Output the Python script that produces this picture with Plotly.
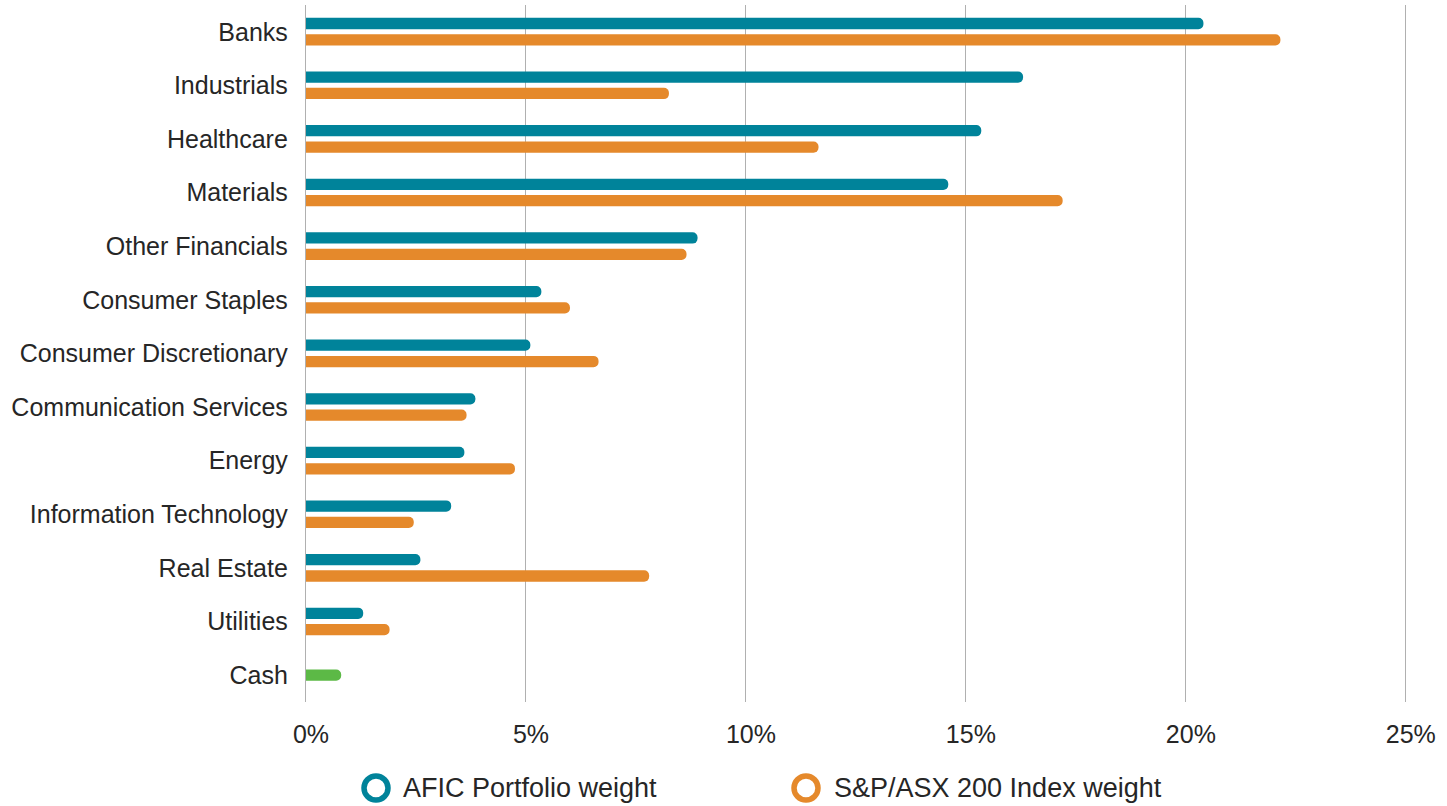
import plotly.graph_objects as go

# Sector weights (%), listed top to bottom
sectors = [
    "Banks", "Industrials", "Healthcare", "Materials", "Other Financials",
    "Consumer Staples", "Consumer Discretionary", "Communication Services",
    "Energy", "Information Technology", "Real Estate", "Utilities", "Cash",
]
afic_weight = [20.4, 16.3, 15.35, 14.6, 8.9, 5.35, 5.1, 3.85, 3.6, 3.3, 2.6, 1.3, None]
index_weight = [22.15, 8.25, 11.65, 17.2, 8.65, 6.0, 6.65, 3.65, 4.75, 2.45, 7.8, 1.9, None]
cash_weight = [None] * 12 + [0.8]

series_names = ["AFIC Portfolio weight", "S&P/ASX 200 Index weight"]
tick_values = [0, 5, 10, 15, 20, 25]
tick_labels = ["0%", "5%", "10%", "15%", "20%", "25%"]

TEAL = "#00839a"
ORANGE = "#e5892b"
GREEN = "#5cb946"
TEXT = "#262626"
GRID = "#b0b0b0"
FONT = "Liberation Sans"

W, H = 1447, 806
M_L, M_R, M_T, M_B = 306, 39, 5, 104
PLOT_W = W - M_L - M_R
PLOT_H = H - M_T - M_B

BAR_W = 0.21

fig = go.Figure()
fig.add_trace(go.Bar(
    y=sectors, x=afic_weight, orientation="h", name=series_names[0],
    marker=dict(color=TEAL, cornerradius=6, line=dict(width=0)),
    width=BAR_W, offset=-0.26, showlegend=False,
))
fig.add_trace(go.Bar(
    y=sectors, x=index_weight, orientation="h", name=series_names[1],
    marker=dict(color=ORANGE, cornerradius=6, line=dict(width=0)),
    width=BAR_W, offset=0.045, showlegend=False,
))
fig.add_trace(go.Bar(
    y=sectors, x=cash_weight, orientation="h", name="Cash",
    marker=dict(color=GREEN, cornerradius=6, line=dict(width=0)),
    width=BAR_W, offset=-BAR_W / 2, showlegend=False,
))


def px_x(px):
    return (px - M_L) / PLOT_W


def px_y(py):
    return (H - M_B - py) / PLOT_H


# Legend: ring markers with labels below the axis
shapes = []
annotations = []
legend_items = [
    (series_names[0], TEAL, 376, 401),
    (series_names[1], ORANGE, 806, 832),
]
ring_r = 12
legend_y = 788
for label, color, cx, tx in legend_items:
    shapes.append(dict(
        type="circle", xref="paper", yref="paper",
        x0=px_x(cx - ring_r), x1=px_x(cx + ring_r),
        y0=px_y(legend_y + ring_r), y1=px_y(legend_y - ring_r),
        line=dict(color=color, width=5.5), fillcolor="rgba(0,0,0,0)",
        layer="above",
    ))
    annotations.append(dict(
        text=label, xref="paper", yref="paper", x=px_x(tx), y=px_y(legend_y),
        xanchor="left", yanchor="middle", showarrow=False,
        font=dict(family=FONT, size=27, color=TEXT),
    ))

fig.update_layout(
    width=W, height=H,
    margin=dict(l=M_L, r=M_R, t=M_T, b=M_B, pad=0),
    paper_bgcolor="white", plot_bgcolor="white",
    barmode="overlay",
    font=dict(family=FONT, color=TEXT),
    shapes=shapes, annotations=annotations,
    xaxis=dict(
        range=[0, 25.05], tickvals=tick_values, ticktext=tick_labels,
        showgrid=True, gridcolor=GRID, gridwidth=1.3,
        zeroline=False, showline=False, ticks="",
        tickfont=dict(family=FONT, size=25, color=TEXT),
        ticklabelstandoff=15, ticklabelshift=5,
        fixedrange=True,
    ),
    yaxis=dict(
        type="category", categoryorder="array", categoryarray=sectors,
        autorange="reversed", showgrid=False, zeroline=False,
        showline=True, linecolor=GRID, linewidth=1.3, ticks="",
        tickfont=dict(family=FONT, size=25, color=TEXT),
        ticklabelstandoff=12,
        fixedrange=True,
    ),
)

fig.write_html("out.html", config={"displayModeBar": False})
